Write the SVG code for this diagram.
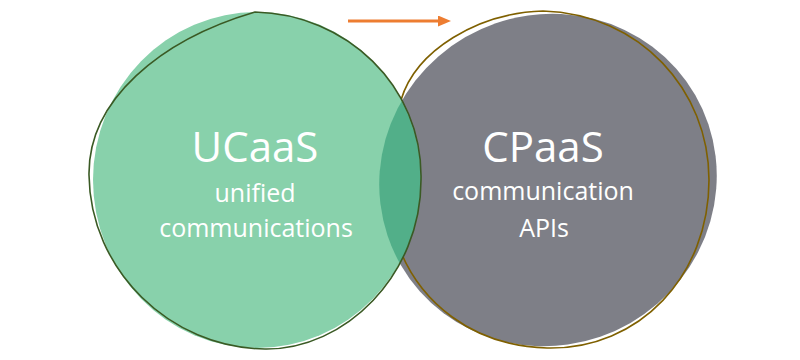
<svg xmlns="http://www.w3.org/2000/svg" width="800" height="360" viewBox="0 0 800 360">
  <style>
    .title { font-family: "Open Sans", "Liberation Sans", sans-serif; font-size: 42px; fill: #ffffff; text-anchor: middle; }
    .sub { font-family: "Open Sans", "Liberation Sans", sans-serif; font-size: 25px; fill: #ffffff; text-anchor: middle; }
    .green-outline { fill: none; stroke: #3A5A24; stroke-width: 1.6; }
    .brown-outline { fill: none; stroke: #7F6000; stroke-width: 1.6; }
  </style>
  <defs>
    <clipPath id="grayClip">
      <ellipse cx="548" cy="180" rx="170" ry="165" transform="rotate(-30 548 180)"/>
    </clipPath>
    <marker id="arrowHead" markerWidth="13" markerHeight="11" refX="0" refY="5.5" orient="auto" markerUnits="userSpaceOnUse">
      <path d="M0,0 L13,5.5 L0,11 Z" fill="#ED7D31"/>
    </marker>
  </defs>
  <rect width="800" height="360" fill="#ffffff"/>

  <g id="cpaas">
    <ellipse cx="548" cy="180" rx="170" ry="165" transform="rotate(-30 548 180)" fill="#7E7F87"/>
    <path class="brown-outline" d="M543,11 C640,14 709,90 709,180 C709,275 640,350 547,348 C470,346 420,300 400,250 C385,210 386,150 401,100 C416,50 478,13 543,11 Z"/>
    <text class="title" x="543" y="162">CPaaS</text>
    <text class="sub" x="543" y="200">communication</text>
    <text class="sub" x="544" y="237">APIs</text>
  </g>

  <g id="ucaas">
    <ellipse cx="257" cy="180" rx="164" ry="168" fill="#88D1AB"/>
    <ellipse cx="257" cy="180" rx="164" ry="168" fill="#52AF89" clip-path="url(#grayClip)"/>
    <path class="green-outline" d="M255,12 C345,14 423,85 421,180 C421,275 345,350 265,349 C170,348 90,270 89,175 C88,100 160,40 255,12 Z"/>
    <text class="title" x="255" y="162">UCaaS</text>
    <text class="sub" x="255" y="202">unified</text>
    <text class="sub" x="256" y="237">communications</text>
  </g>

  <g id="connectors">
    <line x1="348" y1="21" x2="438" y2="21" stroke="#ED7D31" stroke-width="3" marker-end="url(#arrowHead)"/>
  </g>
</svg>
